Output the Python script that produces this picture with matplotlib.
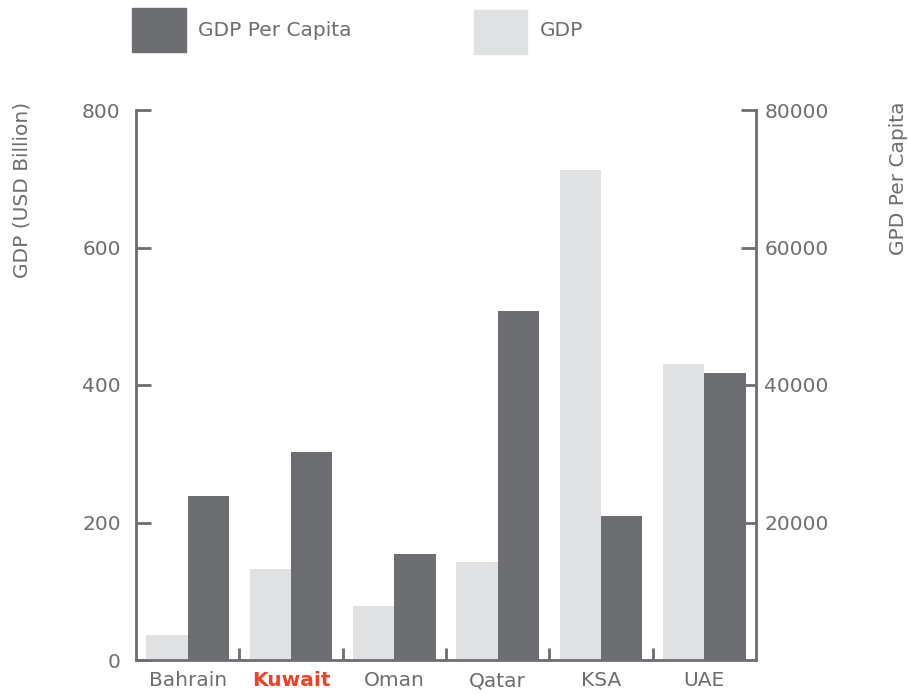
import numpy as np
import matplotlib.pyplot as plt
from matplotlib.patches import Rectangle

countries = ['Bahrain', 'Kuwait', 'Oman', 'Qatar', 'KSA', 'UAE']
gdp = [37, 133, 78, 143, 713, 430]                          # USD billion
gdp_per_capita = [23900, 30200, 15400, 50800, 21000, 41700]  # USD

DARK = '#6d6e71'
LIGHT = '#e0e1e3'
AXIS = '#6d6e71'
TEXT = '#6d6e71'
HIGHLIGHT = '#ef4123'
FS = 14.5

plt.rcParams['font.family'] = ['DejaVu Sans']

fig = plt.figure(figsize=(9.08, 6.95), dpi=100, facecolor='white')
ax = fig.add_axes([136/908, 35/695, 620/908, 550/695])
ax2 = ax.twinx()

x = np.arange(len(countries))
w = 0.4
ax.bar(x - w/2, gdp, width=w, color=LIGHT, zorder=2)
ax2.bar(x + w/2, gdp_per_capita, width=w, color=DARK, zorder=2)

ax.set_xlim(-0.5, len(countries) - 0.5)
ax.set_ylim(0, 800)
ax2.set_ylim(0, 80000)
ax.set_yticks(np.arange(0, 801, 200))
ax2.set_yticks(np.arange(20000, 80001, 20000))

# category labels centred, separators as inward minor ticks
ax.set_xticks(x)
ax.set_xticklabels(countries)
ax.set_xticks(np.arange(0.5, len(countries) - 0.5, 1), minor=True)
ax.tick_params(axis='x', which='major', length=0, pad=8, labelsize=FS, labelcolor=TEXT)
ax.tick_params(axis='x', which='minor', direction='in', length=9, width=2, color=AXIS)
for lbl in ax.get_xticklabels():
    if lbl.get_text() == 'Kuwait':
        lbl.set_color(HIGHLIGHT)
        lbl.set_fontweight('bold')

ax.tick_params(axis='y', direction='in', length=11, width=2, color=AXIS,
               labelsize=FS, labelcolor=TEXT, pad=11)
ax2.tick_params(axis='y', direction='in', length=11, width=2, color=AXIS,
                labelsize=FS, labelcolor=TEXT, pad=6)

for s in ['top', 'right']:
    ax.spines[s].set_visible(False)
for s in ['top', 'left', 'bottom']:
    ax2.spines[s].set_visible(False)
for a, s in [(ax, 'left'), (ax, 'bottom'), (ax2, 'right')]:
    a.spines[s].set_color(AXIS)
    a.spines[s].set_linewidth(2)

fig.text(22/908, 1 - 190/695, 'GDP (USD Billion)', rotation=90, ha='center', va='center',
         fontsize=FS, color=TEXT)
fig.text(898/908, 1 - 178/695, 'GPD Per Capita', rotation=90, ha='center', va='center',
         fontsize=FS, color=TEXT)

# legend swatches along the top
fig.add_artist(Rectangle((132/908, 1 - 52/695), 54/908, 44/695, color=DARK,
                         transform=fig.transFigure))
fig.text(198/908, 1 - 31/695, 'GDP Per Capita', ha='left', va='center', fontsize=FS, color=TEXT)
fig.add_artist(Rectangle((474/908, 1 - 54/695), 53/908, 44/695, color=LIGHT,
                         transform=fig.transFigure))
fig.text(540/908, 1 - 31/695, 'GDP', ha='left', va='center', fontsize=FS, color=TEXT)

fig.savefig('out.png', dpi=100, facecolor='white')
